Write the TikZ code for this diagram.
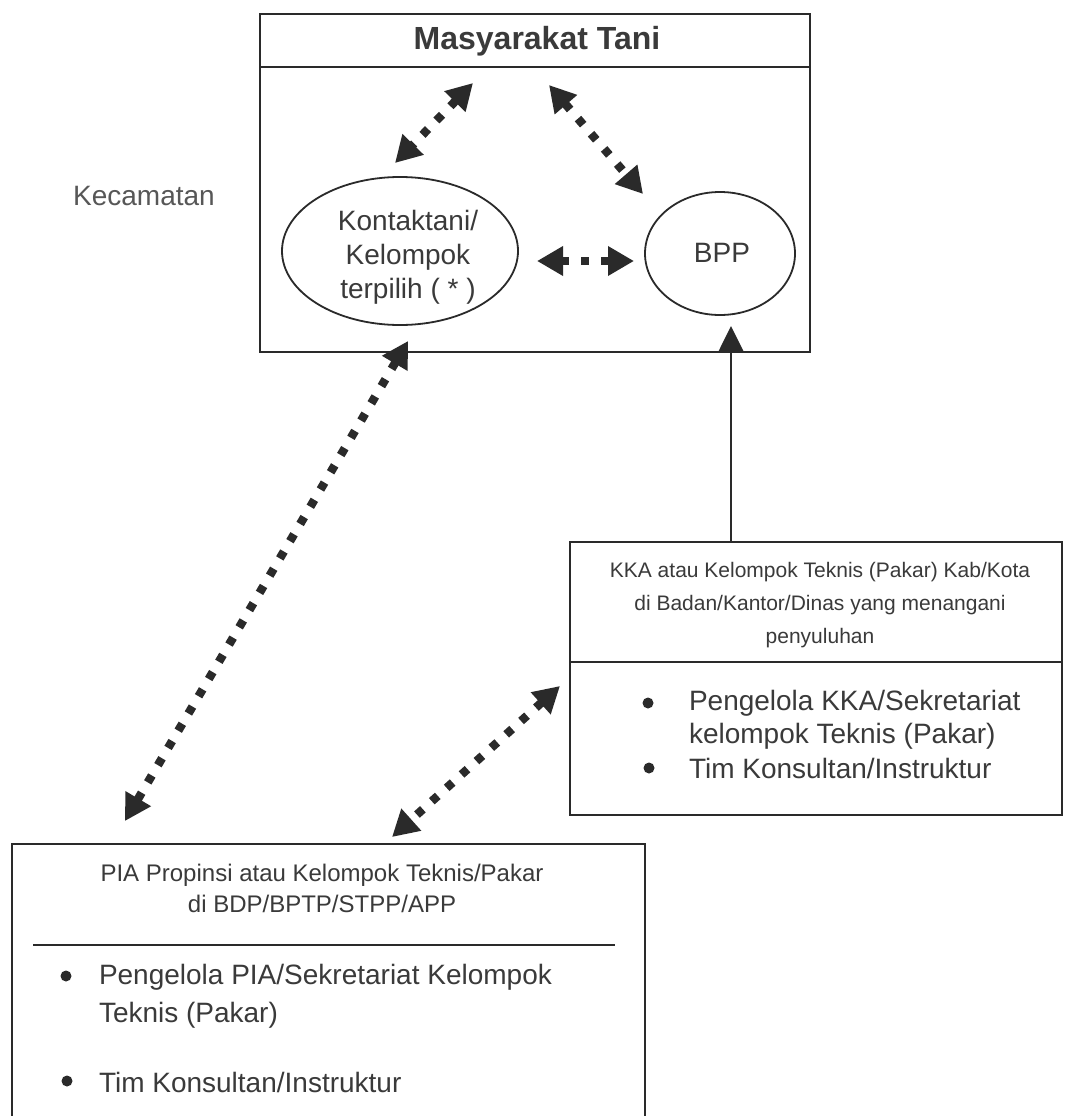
\documentclass[tikz,border=0pt]{standalone}
\usepackage{fontspec}
\setmainfont{Liberation Sans}
\usetikzlibrary{arrows.meta,shapes.geometric}
\definecolor{ink}{HTML}{2A2A2A}
\definecolor{txt}{HTML}{3A3A3A}
\tikzset{
  frame/.style={draw=ink, line width=2.4pt, inner sep=0pt, outer sep=0pt},
  oval/.style={draw=ink, line width=1.8pt, ellipse, inner sep=0pt, outer sep=0pt},
  dotarrow/.style={draw=ink, line width=8.5pt, dash pattern=on 8pt off 12pt,
     {Triangle[length=26pt,width=28pt]}-{Triangle[length=26pt,width=28pt]}},
  solidarrow/.style={draw=ink, line width=2.8pt, -{Triangle[length=25pt,width=24pt]}},
  lbl/.style={text=txt, inner sep=0pt, outer sep=0pt},
  big/.style={font=\fontsize{28}{34}\selectfont},
  bul/.style={circle, fill=ink, draw=none, minimum size=11pt, inner sep=0pt},
}
\begin{document}
\begin{tikzpicture}[x=1pt,y=-1pt]
\useasboundingbox[fill=white] (0,0) rectangle (1065,1116);
% top box
\node[frame, minimum width=550pt, minimum height=338pt] (tani) at (535,183) {};
\draw[ink, line width=2.4pt] (tani.west |- 0,67) coordinate (hl) -- (tani.east |- 0,67) coordinate (hr);
\node[lbl, font=\fontsize{32}{36}\selectfont\bfseries] (taniT) at (537,41) {Masyarakat Tani};
\node[lbl, big, text=txt!85] (kec) at (144,196) {Kecamatan};
\node[oval, minimum width=236pt, minimum height=148pt] (kontak) at (400,251) {};
\node[lbl, big, align=center] (kontakT) at (408,257) {Kontaktani/\\Kelompok\\terpilih ( * )};
\node[oval, minimum width=150pt, minimum height=123pt] (bpp) at (720,253.5) {};
\node[lbl, big] (bppT) at (722,253) {BPP};
% KKA box
\node[frame, minimum width=492pt, minimum height=273pt] (kka) at (816,678.5) {};
\draw[ink, line width=2.4pt] (kka.west |- 0,662) coordinate (kl) -- (kka.east |- 0,662) coordinate (kr);
\node[lbl, align=center, font=\fontsize{21}{33}\selectfont] (kkaT) at (820,605)
  {KKA atau Kelompok Teknis (Pakar) Kab/Kota\\di Badan/Kantor/Dinas yang menangani\\penyuluhan};
\node[bul] (kb1) at (648,703) {};
\node[bul] (kb2) at (649,768) {};
\node[lbl, big, anchor=west] (kt1) at (689,703) {Pengelola KKA/Sekretariat};
\node[lbl, big, anchor=west] (kt2) at (689,736) {kelompok Teknis (Pakar)};
\node[lbl, big, anchor=west] (kt3) at (689,768) {Tim Konsultan/Instruktur};
% PIA box (open at bottom)
\coordinate (p1) at (12,1122);
\coordinate (p2) at (12,844);
\coordinate (p3) at (645,844);
\coordinate (p4) at (645,1122);
\draw[ink, line width=2.4pt] (p1) -- (p2) -- (p3) -- (p4);
\coordinate (pl) at (33,945);
\coordinate (pr) at (615,945);
\draw[ink, line width=2.4pt] (pl) -- (pr);
\node[lbl, align=center, font=\fontsize{24}{31}\selectfont] (piaT) at (322,888)
  {PIA Propinsi atau Kelompok Teknis/Pakar\\di BDP/BPTP/STPP/APP};
\node[bul] (pb1) at (66,976) {};
\node[bul] (pb2) at (67,1081) {};
\node[lbl, big, anchor=west] (pt1) at (99,977) {Pengelola PIA/Sekretariat Kelompok};
\node[lbl, big, anchor=west] (pt2) at (99,1015) {Teknis (Pakar)};
\node[lbl, big, anchor=west] (pt3) at (99,1082) {Tim Konsultan/Instruktur};
% arrow end points
\coordinate (a1s) at (473,83);
\coordinate (a1e) at (395,163);
\coordinate (a2s) at (549,85);
\coordinate (a2e) at (643,194);
\coordinate (a3s) at (537,261);
\coordinate (a3e) at (634,261);
\coordinate (a4s) at (408,341);
\coordinate (a4e) at (125,821);
\coordinate (a5s) at (560,686);
\coordinate (a5e) at (392,837);
\draw[dotarrow] (a1s) -- (a1e);
\draw[dotarrow] (a2s) -- (a2e);
\draw[dotarrow] (a3s) -- (a3e);
\draw[dotarrow] (a4s) -- (a4e);
\draw[dotarrow] (a5s) -- (a5e);
\coordinate (bppin) at (731,326);
\draw[solidarrow] (kka.north -| bppin) -- (bppin);
\end{tikzpicture}
\end{document}
